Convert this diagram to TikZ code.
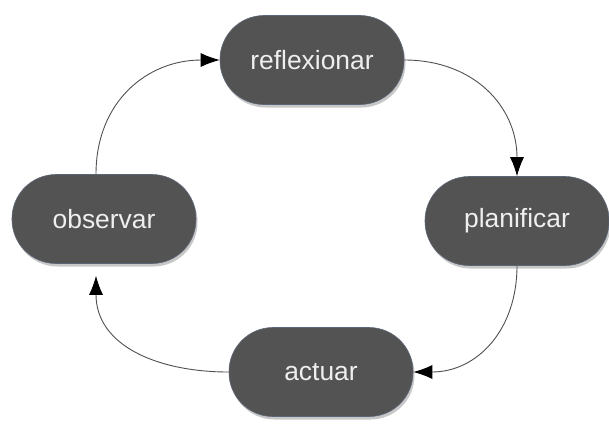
\documentclass[tikz,border=0pt]{standalone}
\usepackage{fontspec}
\setmainfont{Liberation Sans}
\usetikzlibrary{arrows.meta,shadows}
\definecolor{pillfill}{HTML}{535353}
\definecolor{pilledge}{HTML}{5C6678}
\definecolor{pilltext}{HTML}{EFEFEF}
\definecolor{linkcol}{HTML}{505050}
\tikzset{
  pill/.style={rectangle, rounded corners=44bp, minimum width=184bp, minimum height=89bp,
    fill=pillfill, draw=pilledge, line width=0.6bp, text=pilltext,
    font=\fontsize{26.5}{30}\selectfont,
    drop shadow={shadow xshift=1.5bp, shadow yshift=-3bp, opacity=0.22, fill=black}},
  link/.style={draw=linkcol, line width=0.9bp,
    -{Latex[length=19bp,width=14bp,fill=black,color=black]}}
}
\begin{document}
\begin{tikzpicture}[x=1bp,y=-1bp]
  \useasboundingbox (0,0) rectangle (609,423);
  \node[pill] (ref) at (312,60) {reflexionar};
  \node[pill] (plan) at (517,221) {planificar};
  \node[pill] (obs) at (104,219) {observar};
  \node[pill] (act) at (321,372) {actuar};
  \draw[link] (ref.east) to[out=0,in=90,looseness=1.1] (plan.north);
  \draw[link] (plan.south) to[out=-90,in=0,looseness=1.1] (act.east);
  \draw[link] (act.west) to[out=180,in=-90,looseness=1.1] ([xshift=-8bp,yshift=-12bp]obs.south);
  \draw[link] ([xshift=-8bp]obs.north) to[out=90,in=180,looseness=1.1] (ref.west);
\end{tikzpicture}
\end{document}
